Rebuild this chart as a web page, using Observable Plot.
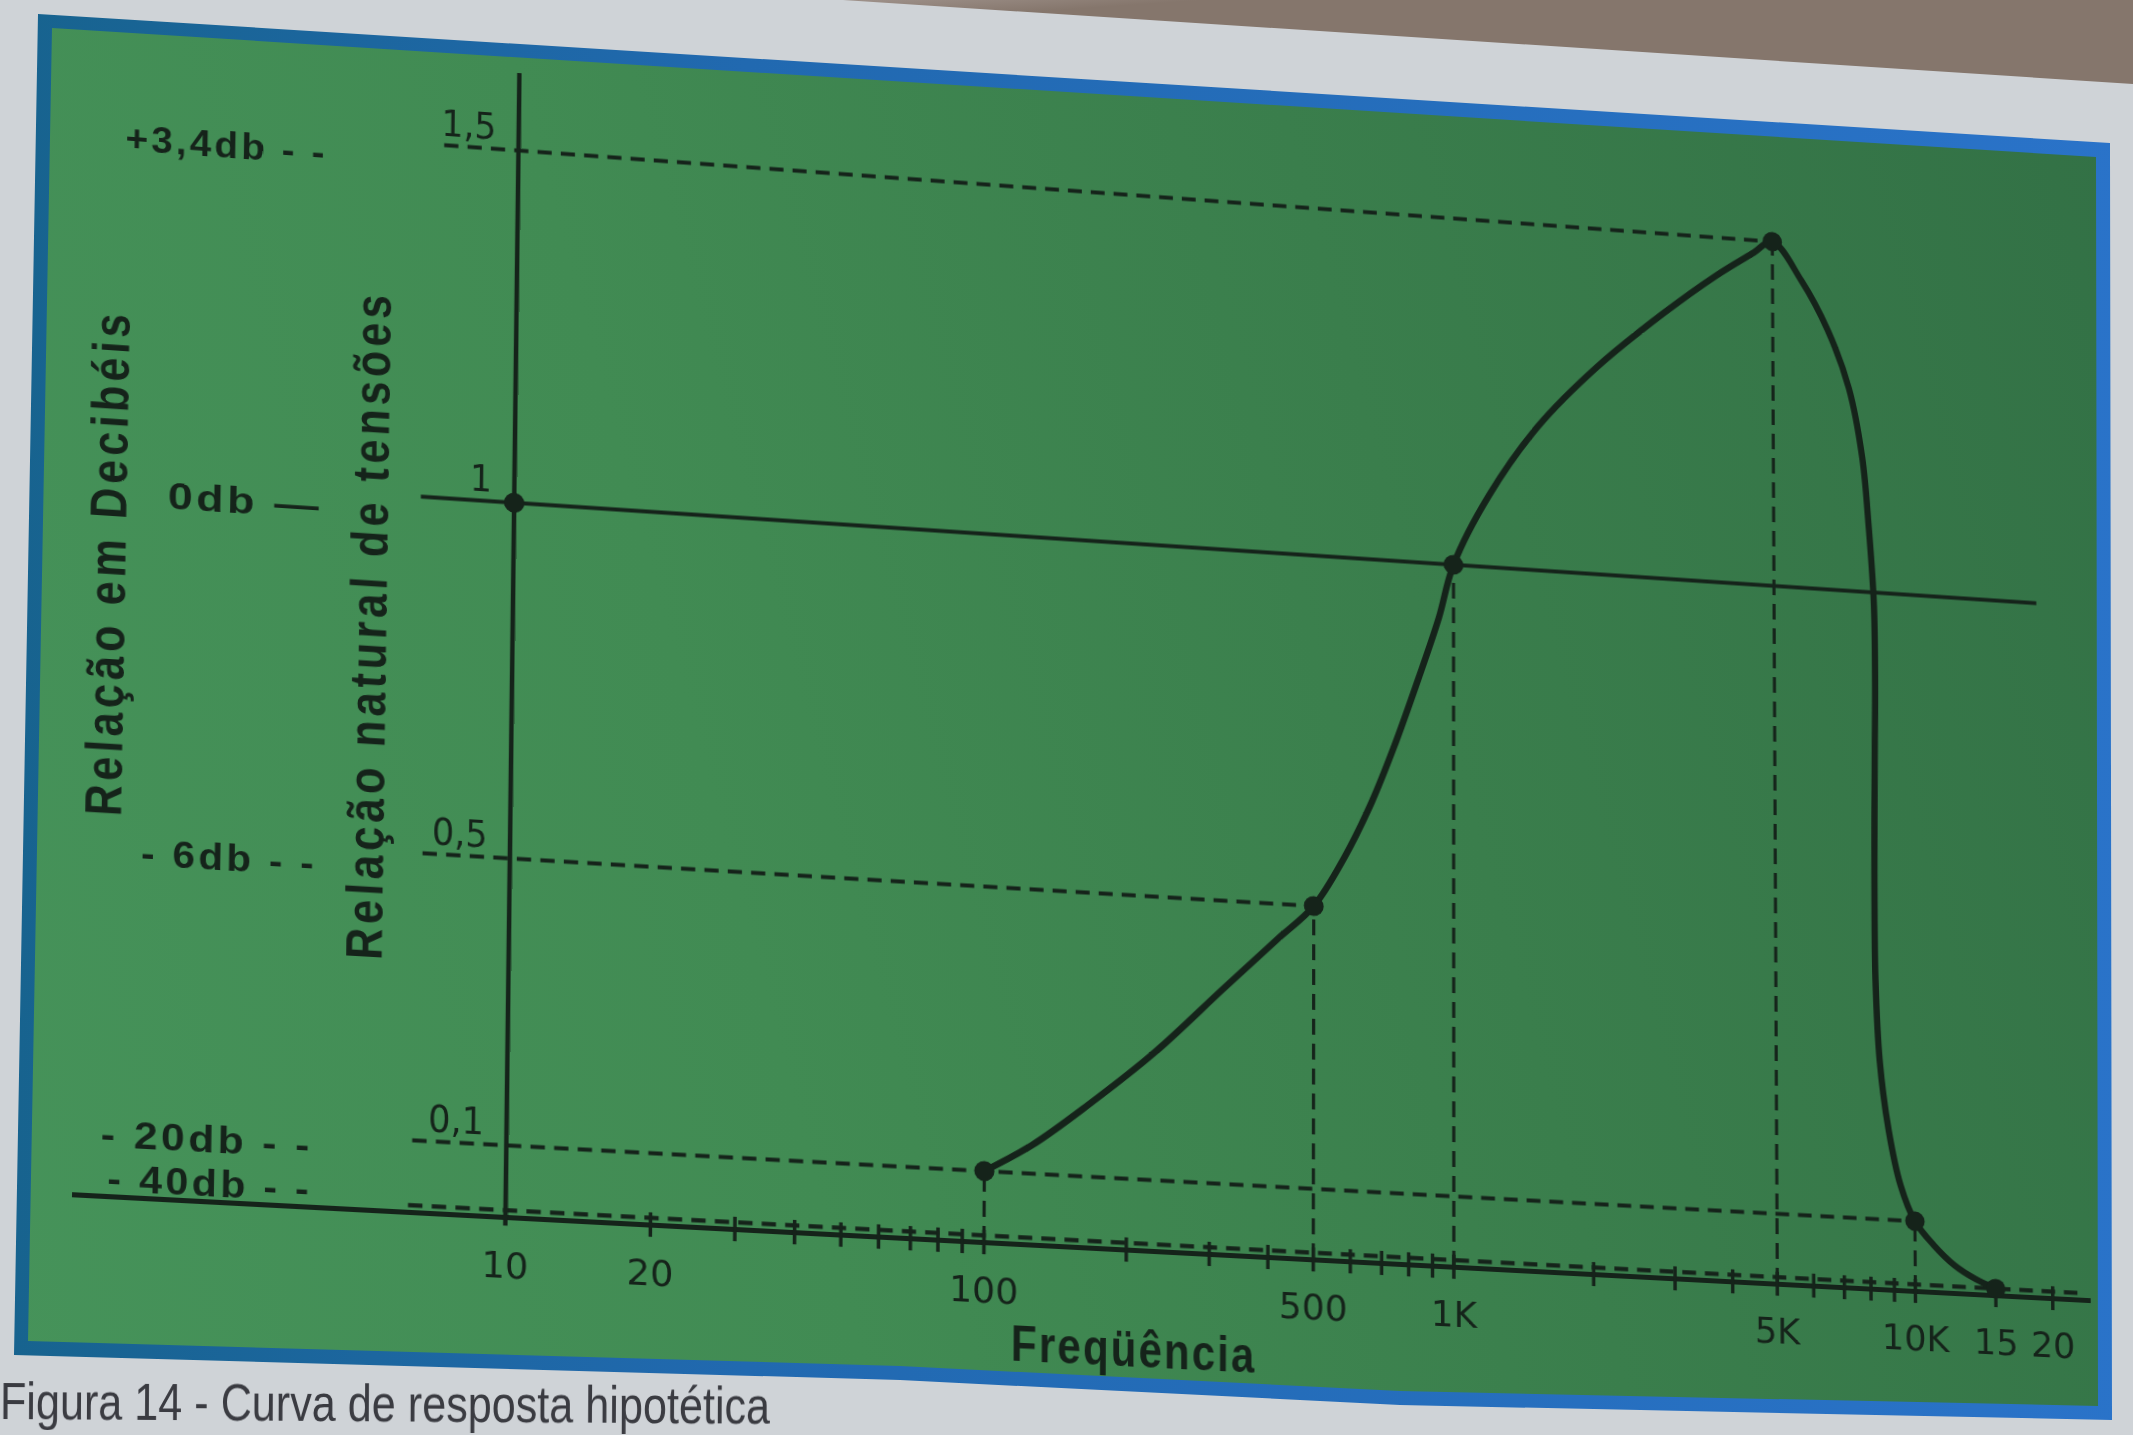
<!DOCTYPE html>
<html lang="pt">
<head>
<meta charset="utf-8">
<title>Curva de resposta hipotética</title>
<script src="https://cdn.jsdelivr.net/npm/d3@7"></script>
<script src="https://cdn.jsdelivr.net/npm/@observablehq/plot@0.6"></script>
<style>
  html, body { margin: 0; padding: 0; }
  body { width: 2133px; height: 1435px; overflow: hidden; position: relative; background: #cfd3d7; }
  .layer { position: absolute; left: 0; top: 0; width: 2133px; height: 1435px; }
  #shade { clip-path: polygon(843px 0, 2133px 0, 2133px 84px); background: linear-gradient(176deg, #bdbcba 0px, #b3aea9 30px, #9d9089 60px, #85766c 84px); }
  #panelEdge { clip-path: polygon(38px 14px, 2110px 143px, 2112px 1420px, 1400px 1405px, 900px 1380px, 14px 1355px); background: linear-gradient(90deg, #17638e 0%, #2169b0 35%, #2a73c9 100%); }
  #panelFace { clip-path: polygon(52px 28px, 2096px 157px, 2098px 1406px, 1400px 1391px, 900px 1366px, 28px 1341px); background: linear-gradient(75deg, #46935a 0%, #418b53 35%, #3a7e4c 65%, #327045 100%); }
  #chart svg { position: absolute; left: 0; top: 0; transform-origin: 0 0; }
  #caption { position: absolute; left: 0; top: 1375px; font: 52px/1 "Liberation Sans", Arial, sans-serif; color: #3a3b41; white-space: nowrap; transform: rotate(0.35deg) scaleX(0.83); transform-origin: 0 50%; }
</style>
</head>
<body>
<div id="shade" class="layer"></div>
<div id="panelEdge" class="layer"></div>
<div id="panelFace" class="layer"></div>
<div id="chart" class="layer"></div>
<div id="caption"></div>
<script>
// ---------- data ----------
// response curve (frequency in Hz, natural voltage ratio)
const curveFreq  = [100, 126, 165, 229, 320, 418, 500, 583, 666, 741, 840, 929, 1000, 1194, 1525, 2060, 2862, 3766, 4550, 5000, 5779, 6607, 7350, 7847, 8091, 8290, 8320, 8290, 8260, 8240, 8260, 8420, 8791, 9315, 10000, 11000, 12200, 13570, 15000];
const curveRatio = [0.1, 0.14, 0.2, 0.28, 0.375, 0.45, 0.5, 0.573, 0.653, 0.731, 0.834, 0.922, 1.0, 1.103, 1.207, 1.3, 1.383, 1.445, 1.482, 1.5, 1.447, 1.377, 1.294, 1.195, 1.096, 0.983, 0.866, 0.773, 0.677, 0.56, 0.442, 0.325, 0.227, 0.15, 0.1, 0.067, 0.04, 0.022, 0.01];

// marked points
const pointFreq  = [10, 100, 500, 1000, 5000, 10000, 15000];
const pointRatio = [1, 0.1, 0.5, 1, 1.5, 0.1, 0.01];

// dashed reference lines (horizontal)
const guideLevel = [1.5, 0.5, 0.1, 0.01];
const guideFrom  = [7, 6.6, 6.4, 6.3];
const guideTo    = [5000, 500, 10000, 23000];

// solid 0 dB (ratio 1) line
const unityLevel = [1];
const unityFrom  = [6.4];
const unityTo    = [19000];

// dashed drop lines (vertical)
const dropFreq  = [100, 500, 1000, 5000, 10000, 15000];
const dropRatio = [0.1, 0.5, 1, 1.5, 0.1, 0.01];

// frequency axis
const axisFrom = [1.29];
const axisTo   = [24300];
const minorTicks = [20, 30, 40, 50, 60, 70, 80, 90, 100, 200, 300, 400, 500, 600, 700, 800, 900, 1000, 2000, 3000, 4000, 5000, 6000, 7000, 8000, 9000, 10000, 15000, 20000];
const freqLabelValue = [10, 20, 100, 500, 1000, 5000, 10000, 15000, 20000];
const freqLabelText  = ["10", "20", "100", "500", "1K", "5K", "10K", "15", "20"];

// ratio axis
const ratioAxisTop = [1.61];
const ratioLabelValue = [1.5, 1, 0.5, 0.1];
const ratioLabelText  = ["1,5", "1", "0,5", "0,1"];

// decibel column
const dbLevel = [1.5, 1, 0.5, 0.1, 0.01];
const dbText  = ["+3,4db - -", "0db —", "- 6db - -", "- 20db - -", "- 40db - -"];

// titles
const xTitle = "Freqüência";
const xTitleAt = [208];
const yTitleInner = "Relação natural de tensões";
const yTitleInnerAt = [0.817];
const yTitleOuter = "Relação em Decibéis";
const yTitleOuterAt = [0.88];
const captionText = "Figura 14 - Curva de resposta hipotética";

// ---------- tables for the library ----------
const curve  = curveFreq.map((f, i) => ({f, v: curveRatio[i]}));
const points = pointFreq.map((f, i) => ({f, v: pointRatio[i]}));
const guides = guideLevel.map((v, i) => ({v, x1: guideFrom[i], x2: guideTo[i]}));
const unity  = unityLevel.map((v, i) => ({v, x1: unityFrom[i], x2: unityTo[i]}));
const drops  = dropFreq.map((f, i) => ({f, v: dropRatio[i]}));
const freqLabels  = freqLabelValue.map((f, i) => ({f, t: freqLabelText[i]}));
const ratioLabels = ratioLabelValue.map((v, i) => ({v, t: ratioLabelText[i]}));
const dbLabels    = dbLevel.map((v, i) => ({v, t: dbText[i]}));

const ink = "#15231a";
const letterFont = "'Liberation Sans', Arial, sans-serif";
const dbStyle = {y: "v", text: "t", frameAnchor: "left", dx: 230, textAnchor: "end", lineAnchor: "middle", fontSize: 37, fontWeight: "bold", fontFamily: letterFont, fill: ink};

const chart = Plot.plot({
  width: 2133,
  height: 1435,
  marginLeft: 88,
  marginRight: 38,
  marginTop: 79,
  marginBottom: 220,
  x: {type: "log", domain: [axisFrom[0], axisTo[0]], axis: null},
  y: {type: "linear", domain: [0, 1.6], axis: null},
  style: {background: "transparent", color: ink, overflow: "visible"},
  marks: [
    // horizontal dashed guides
    Plot.ruleY(guides, {y: "v", x1: "x1", x2: "x2", stroke: ink, strokeWidth: 4.2, strokeDasharray: "14,9"}),
    // vertical dashed drop lines
    Plot.ruleX(drops, {x: "f", y1: 0, y2: "v", stroke: ink, strokeWidth: 3.2, strokeDasharray: "16,9"}),
    // 0 dB line
    Plot.ruleY(unity, {y: "v", x1: "x1", x2: "x2", stroke: ink, strokeWidth: 4}),
    // frequency axis line and ticks
    Plot.ruleY([0], {x1: axisFrom[0], x2: axisTo[0], stroke: ink, strokeWidth: 5}),
    Plot.ruleX(minorTicks, {y1: -0.017, y2: 0.017, stroke: ink, strokeWidth: 3.5}),
    // ratio axis line
    Plot.ruleX([10], {y1: -0.012, y2: ratioAxisTop[0], stroke: ink, strokeWidth: 4.5}),
    // response curve
    Plot.line(curve, {x: "f", y: "v", curve: "catmull-rom", stroke: ink, strokeWidth: 6.5, strokeLinejoin: "round", strokeLinecap: "round"}),
    // marked points
    Plot.dot(points, {x: "f", y: "v", r: 10, fill: ink, stroke: null}),
    // frequency tick labels
    Plot.text(freqLabels, {x: "f", y: 0, text: "t", dy: 48, lineAnchor: "middle", fontSize: 36, fontFamily: "'DejaVu Sans', sans-serif", fill: ink}),
    // ratio tick labels
    Plot.text(ratioLabels, {x: 10, y: "v", text: "t", textAnchor: "end", lineAnchor: "bottom", dx: -22, dy: -10, fontSize: 38, fontFamily: "'DejaVu Sans Condensed', 'DejaVu Sans', sans-serif", fill: ink}),
    // decibel labels
    Plot.text(dbLabels, {...dbStyle, filter: d => d.v >= 0.5, dy: 17}),
    Plot.text(dbLabels, {...dbStyle, filter: d => d.v === 0.1, dy: 11}),
    Plot.text(dbLabels, {...dbStyle, filter: d => d.v < 0.1, dy: -10}),
    // titles
    Plot.text([yTitleOuter], {text: d => d, y: yTitleOuterAt[0], frameAnchor: "left", dx: 24, rotate: -90, textAnchor: "middle", lineAnchor: "middle", fontSize: 50, fontWeight: "bold", fontFamily: letterFont, fill: ink}),
    Plot.text([yTitleInner], {text: d => d, y: yTitleInnerAt[0], frameAnchor: "left", dx: 278, rotate: -90, textAnchor: "middle", lineAnchor: "middle", fontSize: 50, fontWeight: "bold", fontFamily: letterFont, fill: ink}),
    Plot.text([xTitle], {text: d => d, x: xTitleAt[0], y: 0, dy: 99, textAnchor: "middle", lineAnchor: "middle", fontSize: 50, fontWeight: "bold", fontFamily: letterFont, fill: ink})
  ]
});

// narrow, spaced hand lettering: letter spacing and fitted run length (px)
const lettering = new Map([
  [yTitleOuter, [5, 503]], [yTitleInner, [5, 667]], [xTitle, [2.5, 244]],
  [dbText[0], [3, 197]], [dbText[1], [3, 150]], [dbText[2], [3, 170]], [dbText[3], [3, 204]], [dbText[4], [3, 197]]
]);
chart.querySelectorAll("text").forEach(el => {
  const s = lettering.get(el.textContent);
  if (s) {
    el.setAttribute("letter-spacing", s[0]);
    el.setAttribute("textLength", s[1]);
    el.setAttribute("lengthAdjust", "spacingAndGlyphs");
  }
});

document.getElementById("chart").appendChild(chart);
document.getElementById("caption").textContent = captionText;

// ---------- photo perspective: map the flat chart onto the photographed page ----------
const photoAnchors = [[518, 150], [505, 1217], [1915, 1291], [1908, 251]];
const sx = chart.scale("x"), sy = chart.scale("y");
const flatAnchors = [
  [sx.apply(10), sy.apply(1.5)],
  [sx.apply(10), sy.apply(0)],
  [sx.apply(10000), sy.apply(0)],
  [sx.apply(10000), sy.apply(1.5)]
];
function homography(src, dst) {
  const A = [], b = [];
  for (let i = 0; i < 4; i++) {
    const [x, y] = src[i], [u, v] = dst[i];
    A.push([x, y, 1, 0, 0, 0, -x * u, -y * u]); b.push(u);
    A.push([0, 0, 0, x, y, 1, -x * v, -y * v]); b.push(v);
  }
  const n = 8;
  for (let c = 0; c < n; c++) {
    let p = c;
    for (let r = c + 1; r < n; r++) if (Math.abs(A[r][c]) > Math.abs(A[p][c])) p = r;
    [A[c], A[p]] = [A[p], A[c]]; [b[c], b[p]] = [b[p], b[c]];
    for (let r = c + 1; r < n; r++) {
      const f = A[r][c] / A[c][c];
      for (let k = c; k < n; k++) A[r][k] -= f * A[c][k];
      b[r] -= f * b[c];
    }
  }
  const h = new Array(n);
  for (let r = n - 1; r >= 0; r--) {
    let s = b[r];
    for (let k = r + 1; k < n; k++) s -= A[r][k] * h[k];
    h[r] = s / A[r][r];
  }
  return h;
}
const h = homography(flatAnchors, photoAnchors);
chart.style.transform = `matrix3d(${h[0]},${h[3]},0,${h[6]},${h[1]},${h[4]},0,${h[7]},0,0,1,0,${h[2]},${h[5]},0,1)`;
</script>
</body>
</html>
